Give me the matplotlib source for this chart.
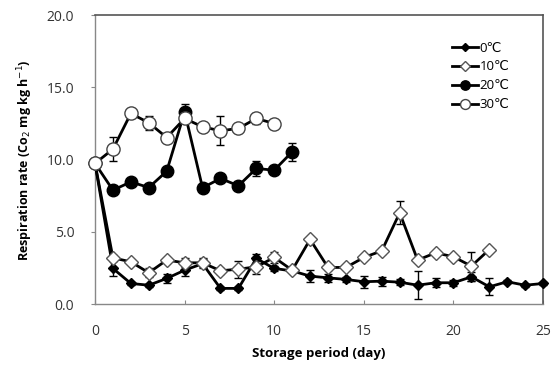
import matplotlib
matplotlib.use("Agg")
import matplotlib.pyplot as plt
from matplotlib.lines import Line2D

plt.rcParams['font.family'] = ['Open Sans', 'DejaVu Sans']

days_0 = list(range(0, 26))
resp_0 = [9.74, 2.47, 1.43, 1.31, 1.78, 2.35, 2.8, 1.09, 1.09, 3.16, 2.47, 2.3, 1.94, 1.82, 1.71,
          1.55, 1.59, 1.52, 1.31, 1.48, 1.48, 1.89, 1.2, 1.55, 1.31, 1.43]
err_0 = [0, 0.5, 0.1, 0.1, 0.3, 0.4, 0.3, 0.1, 0.1, 0.3, 0.2, 0.1, 0.4, 0.3, 0.2,
         0.4, 0.3, 0.2, 0.98, 0.3, 0.2, 0.3, 0.6, 0.1, 0.1, 0.1]

days_10 = list(range(0, 23))
resp_10 = [9.74, 3.2, 2.93, 2.17, 3.05, 2.86, 2.86, 2.31, 2.42, 2.58, 3.23, 2.35, 4.48, 2.54, 2.54,
           3.23, 3.69, 6.32, 3.05, 3.55, 3.28, 2.63, 3.78]
err_10 = [0, 0.2, 0.1, 0.3, 0.1, 0.3, 0.3, 0.2, 0.6, 0.5, 0.4, 0.1, 0.1, 0.2, 0.1,
          0.1, 0.2, 0.8, 0.1, 0.1, 0.1, 1.0, 0.1]

days_20 = list(range(0, 12))
resp_20 = [9.74, 7.89, 8.46, 8.07, 9.2, 13.3, 8.05, 8.7, 8.19, 9.39, 9.27, 10.54]
err_20 = [0, 0.2, 0.2, 0.2, 0.3, 0.53, 0.1, 0.1, 0.2, 0.5, 0.2, 0.6]

days_30 = list(range(0, 11))
resp_30 = [9.74, 10.73, 13.2, 12.55, 11.53, 12.85, 12.27, 12.0, 12.16, 12.85, 12.5]
err_30 = [0, 0.83, 0.1, 0.5, 0.1, 0.2, 0.1, 1.0, 0.1, 0.4, 0.1]

labels = ['0\u2103', '10\u2103', '20\u2103', '30\u2103']
x_ticks = [0, 5, 10, 15, 20, 25]
y_ticks = [0.0, 5.0, 10.0, 15.0, 20.0]

fig = plt.figure(figsize=(5.57, 3.70), dpi=100)
ax = fig.add_axes([0.1706, 0.178, 0.8044, 0.781])

common = dict(color='black', ecolor='black', elinewidth=1.0, capsize=3, capthick=1.0, linewidth=2.0)
styles = [
    dict(marker='D', markersize=5.5, markerfacecolor='black', markeredgecolor='black', markeredgewidth=1.0),
    dict(marker='D', markersize=7, markerfacecolor='white', markeredgecolor='#555555', markeredgewidth=1.0),
    dict(marker='o', markersize=9, markerfacecolor='black', markeredgecolor='black', markeredgewidth=1.0),
    dict(marker='o', markersize=9.5, markerfacecolor='white', markeredgecolor='#444444', markeredgewidth=1.0),
]
series = [(days_0, resp_0, err_0), (days_10, resp_10, err_10),
          (days_20, resp_20, err_20), (days_30, resp_30, err_30)]
zorders = [3, 4, 3, 4]
for (d, r, e), st, z in zip(series, styles, zorders):
    cont = ax.errorbar(d, r, yerr=e, zorder=z, **common, **st)
    for art in [cont[0], *cont[1], *cont[2]]:
        art.set_clip_on(False)

ax.set_xlim(0, 25)
ax.set_ylim(0, 20)
ax.set_xticks(x_ticks)
ax.set_xticklabels([str(t) for t in x_ticks])
ax.set_yticks(y_ticks)
ax.set_yticklabels([f"{t:.1f}" for t in y_ticks])
ax.tick_params(axis='x', direction='in', length=3, color='#888888', labelsize=10, pad=14, labelcolor='#333333')
ax.tick_params(axis='y', direction='out', length=3, color='#888888', labelsize=10, pad=12, labelcolor='#333333')
for s in ['left', 'bottom']:
    ax.spines[s].set_color('#888888')
    ax.spines[s].set_linewidth(1.0)
for s in ['top', 'right']:
    ax.spines[s].set_color('#555555')
    ax.spines[s].set_linewidth(1.2)

ax.set_xlabel('Storage period (day)', fontsize=9.5, fontweight='bold', labelpad=6)
ax.set_ylabel('Respiration rate (Co$_2$ mg kg h$^{-1}$)', fontsize=9, fontweight='bold', labelpad=8)

handles = []
for st in styles:
    h = dict(st)
    h['markersize'] = st['markersize'] * 0.75
    handles.append(Line2D([], [], color='black', linewidth=2.0, **h))
ax.legend(handles, labels, loc='upper left', bbox_to_anchor=(0.77, 0.95), frameon=False, fontsize=9.5,
          handlelength=2.0, handletextpad=0.1, labelspacing=0.45)

fig.savefig('out.png', dpi=100)
